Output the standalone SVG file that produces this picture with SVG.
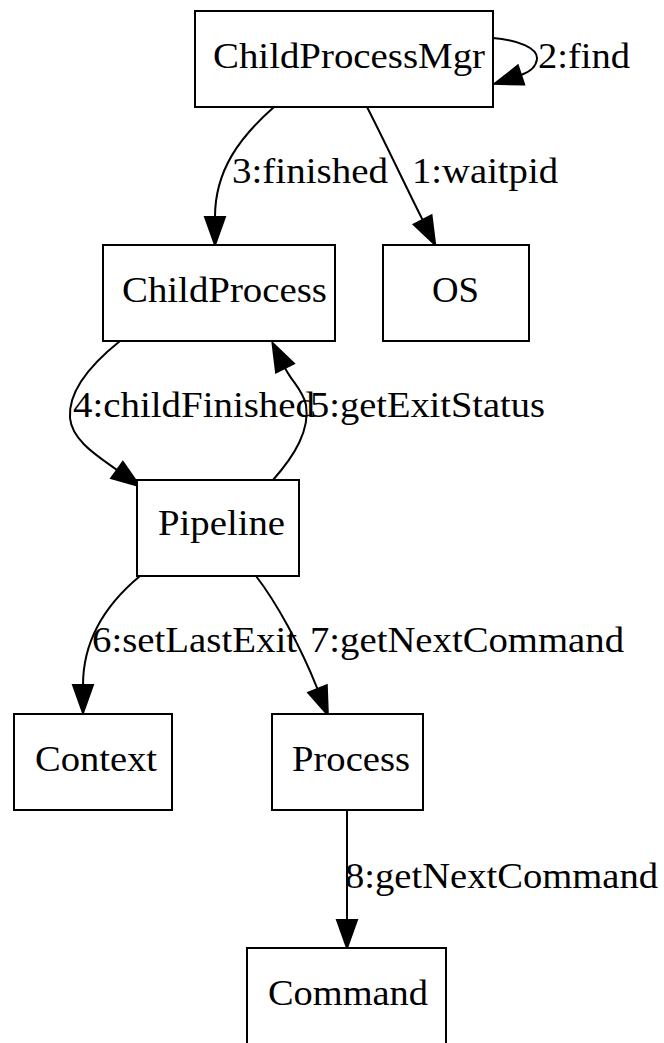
<svg xmlns="http://www.w3.org/2000/svg" width="664" height="1043" viewBox="0 0 664 1043">
  <style>
    .node rect { fill: #ffffff; stroke: #000000; stroke-width: 2; }
    .node text, .lbl { font-family: "Liberation Serif", "Times New Roman", serif; font-size: 35px; fill: #000000; }
    .edge { fill: none; stroke: #000000; stroke-width: 2; }
  </style>
  <defs>
    <marker id="arrow" markerUnits="userSpaceOnUse" markerWidth="32" markerHeight="26" refX="1" refY="13" orient="auto" overflow="visible">
      <path d="M1,3 L29,13 L1,23 z" fill="#000000" stroke="#000000" stroke-width="2"/>
    </marker>
  </defs>
  <rect width="664" height="1043" fill="#ffffff"/>

  <!-- connectors -->
  <g id="connectors">
    <g id="e-find">
      <path class="edge" d="M493,38 C518,40 538,48 537,59 C536,67 530,72 521,75" marker-end="url(#arrow)"/>
      <text class="lbl" x="538" y="68" textLength="92" lengthAdjust="spacingAndGlyphs">2:find</text>
    </g>
    <g id="e-finished">
      <path class="edge" d="M274,107 C240,137 215,170 215,217" marker-end="url(#arrow)"/>
      <text class="lbl" x="232" y="183" textLength="156" lengthAdjust="spacingAndGlyphs">3:finished</text>
    </g>
    <g id="e-waitpid">
      <path class="edge" d="M367,107 C385,142 405,185 422.6,219.9" marker-end="url(#arrow)"/>
      <text class="lbl" x="412" y="183" textLength="146" lengthAdjust="spacingAndGlyphs">1:waitpid</text>
    </g>
    <g id="e-childFinished">
      <path class="edge" d="M120,341 C90,365 68,392 70,418 C72,440 96,455 117,470" marker-end="url(#arrow)"/>
      <text class="lbl" x="73" y="417" textLength="242" lengthAdjust="spacingAndGlyphs">4:childFinished</text>
    </g>
    <g id="e-getExitStatus">
      <path class="edge" d="M273,480 C295,455 310,430 306,405 C303,390 292,382 285,368" marker-end="url(#arrow)"/>
      <text class="lbl" x="310" y="417" textLength="235" lengthAdjust="spacingAndGlyphs">5:getExitStatus</text>
    </g>
    <g id="e-setLastExit">
      <path class="edge" d="M140,576 C105,605 83,640 83,685" marker-end="url(#arrow)"/>
      <text class="lbl" x="92" y="652" textLength="205" lengthAdjust="spacingAndGlyphs">6:setLastExit</text>
    </g>
    <g id="e-getNextCommand-7">
      <path class="edge" d="M256,576 C276,602 300,645 317.5,689" marker-end="url(#arrow)"/>
      <text class="lbl" x="310" y="652" textLength="314" lengthAdjust="spacingAndGlyphs">7:getNextCommand</text>
    </g>
    <g id="e-getNextCommand-8">
      <path class="edge" d="M347,810 L347,920" marker-end="url(#arrow)"/>
      <text class="lbl" x="345" y="888" textLength="313" lengthAdjust="spacingAndGlyphs">8:getNextCommand</text>
    </g>
  </g>

  <!-- nodes -->
  <g id="ChildProcessMgr" class="node">
    <rect x="195" y="11" width="298" height="96"/>
    <text x="213" y="68" textLength="272" lengthAdjust="spacingAndGlyphs">ChildProcessMgr</text>
  </g>
  <g id="ChildProcess" class="node">
    <rect x="103" y="245" width="232" height="96"/>
    <text x="122" y="302" textLength="205" lengthAdjust="spacingAndGlyphs">ChildProcess</text>
  </g>
  <g id="OS" class="node">
    <rect x="383" y="245" width="146" height="96"/>
    <text x="432" y="302" textLength="47" lengthAdjust="spacingAndGlyphs">OS</text>
  </g>
  <g id="Pipeline" class="node">
    <rect x="137" y="480" width="162" height="96"/>
    <text x="158" y="535" textLength="127" lengthAdjust="spacingAndGlyphs">Pipeline</text>
  </g>
  <g id="Context" class="node">
    <rect x="14" y="714" width="158" height="96"/>
    <text x="35" y="771" textLength="122" lengthAdjust="spacingAndGlyphs">Context</text>
  </g>
  <g id="Process" class="node">
    <rect x="272" y="714" width="151" height="96"/>
    <text x="292" y="771" textLength="118" lengthAdjust="spacingAndGlyphs">Process</text>
  </g>
  <g id="Command" class="node">
    <rect x="247" y="948" width="199" height="97"/>
    <text x="268" y="1005" textLength="160" lengthAdjust="spacingAndGlyphs">Command</text>
  </g>
</svg>
